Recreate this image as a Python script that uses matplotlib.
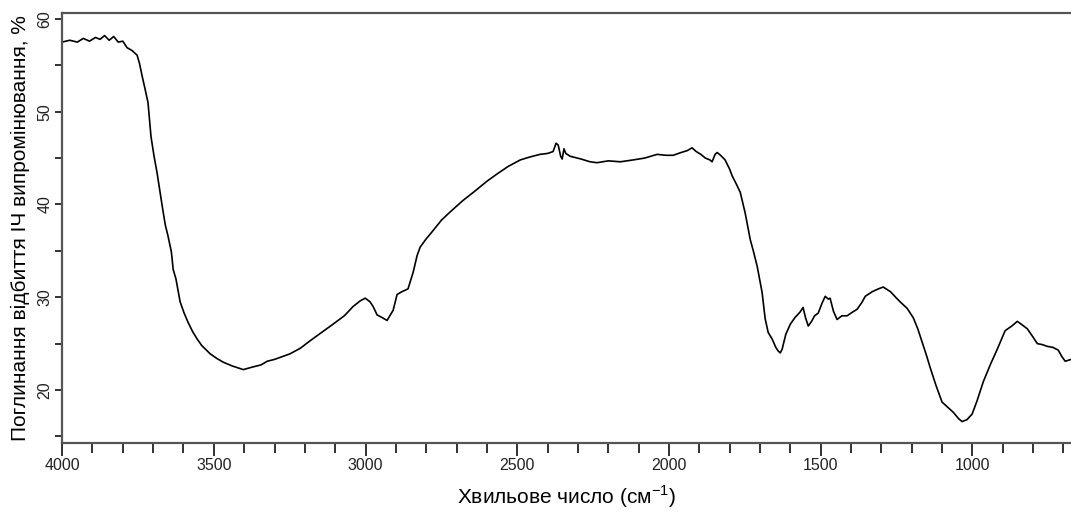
import numpy as np
import matplotlib.pyplot as plt
from matplotlib.ticker import MultipleLocator

plt.rcParams['font.family'] = ['Liberation Sans', 'DejaVu Sans']

# IR spectrum: wavenumber (cm-1) and absorbance (%)
WAVENUMBER = [
    4000, 3975, 3950, 3930, 3910, 3890, 3875, 3860, 3845, 3830, 3815, 3800,
    3786, 3770, 3753, 3745, 3736, 3727, 3717, 3707, 3697, 3687, 3670, 3660,
    3651, 3640, 3634, 3625, 3611, 3598, 3585, 3570, 3555, 3540, 3512, 3490,
    3469, 3440, 3403, 3370, 3345, 3324, 3300, 3275, 3249, 3215, 3183, 3145,
    3107, 3070, 3041, 3018, 3001, 2985, 2975, 2962, 2945, 2929, 2909, 2896,
    2880, 2860, 2843, 2830, 2820, 2800, 2787, 2750, 2721, 2680, 2645, 2600,
    2566, 2530, 2490, 2460, 2425, 2400, 2382, 2372, 2365, 2357, 2352, 2346,
    2340, 2326, 2290, 2260, 2237, 2200, 2160, 2118, 2080, 2039, 2010, 1986,
    1960, 1940, 1924, 1910, 1895, 1880, 1865, 1858, 1848, 1841, 1830, 1815,
    1800, 1792, 1778, 1765, 1749, 1732, 1722, 1709, 1693, 1683, 1673, 1660,
    1648, 1640, 1633, 1627, 1615, 1600, 1585, 1568, 1558, 1550, 1541, 1530,
    1520, 1508, 1495, 1485, 1475, 1469, 1458, 1446, 1430, 1413, 1395, 1380,
    1365, 1353, 1330, 1310, 1294, 1270, 1250, 1238, 1215, 1195, 1180, 1166,
    1150, 1139, 1120, 1100, 1080, 1063, 1045, 1034, 1018, 1001, 985, 964,
    940, 918, 900, 892, 870, 852, 835, 819, 800, 786, 770, 753,
    735, 717, 705, 694, 675,
]
ABSORBANCE = [
    57.5, 57.7, 57.5, 57.9, 57.6, 58.0, 57.8, 58.2, 57.7, 58.1, 57.5, 57.6,
    56.9, 56.6, 56.1, 55.2, 53.8, 52.5, 51.0, 47.3, 45.2, 43.4, 39.8, 37.8,
    36.6, 34.9, 33.0, 32.0, 29.5, 28.3, 27.3, 26.3, 25.5, 24.8, 23.9, 23.4,
    23.0, 22.6, 22.2, 22.5, 22.7, 23.1, 23.3, 23.6, 23.9, 24.5, 25.3, 26.2,
    27.1, 28.0, 29.0, 29.6, 29.9, 29.5, 29.0, 28.1, 27.8, 27.5, 28.6, 30.3,
    30.6, 30.9, 32.7, 34.5, 35.4, 36.3, 36.8, 38.3, 39.2, 40.4, 41.3, 42.5,
    43.3, 44.1, 44.8, 45.1, 45.4, 45.5, 45.7, 46.6, 46.4, 45.2, 44.9, 46.0,
    45.5, 45.2, 44.9, 44.6, 44.5, 44.7, 44.6, 44.8, 45.0, 45.4, 45.3, 45.3,
    45.6, 45.8, 46.1, 45.7, 45.4, 45.0, 44.8, 44.6, 45.4, 45.6, 45.3, 44.8,
    43.8, 43.1, 42.2, 41.3, 39.1, 36.2, 35.0, 33.3, 30.5, 27.7, 26.2, 25.5,
    24.6, 24.2, 24.0, 24.4, 26.0, 27.1, 27.8, 28.4, 28.9, 27.8, 26.9, 27.4,
    28.0, 28.3, 29.4, 30.1, 29.8, 29.9, 28.5, 27.6, 28.0, 28.0, 28.4, 28.7,
    29.4, 30.1, 30.6, 30.9, 31.1, 30.6, 29.9, 29.5, 28.8, 27.8, 26.6, 25.2,
    23.6, 22.4, 20.5, 18.7, 18.1, 17.6, 16.9, 16.6, 16.8, 17.4, 18.8, 20.9,
    22.8, 24.4, 25.8, 26.4, 26.9, 27.4, 27.0, 26.6, 25.7, 25.0, 24.9, 24.7,
    24.6, 24.3, 23.6, 23.1, 23.3,
]

X_TICKS = [4000, 3500, 3000, 2500, 2000, 1500, 1000]
Y_TICKS = [20, 30, 40, 50, 60]

fig = plt.figure(figsize=(10.71, 5.15), dpi=100)
ax = fig.add_axes([0.058, 0.14, 0.942, 0.835])

ax.plot(WAVENUMBER, ABSORBANCE, color='black', linewidth=1.2)

ax.set_xlim(4000, 675)
ax.set_ylim(14.3, 60.65)

ax.set_xticks(X_TICKS)
ax.xaxis.set_minor_locator(MultipleLocator(100))
ax.set_yticks(Y_TICKS)
ax.yaxis.set_minor_locator(MultipleLocator(5))

spine_col = '#555555'
for side in ('left', 'bottom', 'top'):
    ax.spines[side].set_color(spine_col)
    ax.spines[side].set_linewidth(1.6)
ax.spines['right'].set_visible(False)

ax.tick_params(axis='x', which='major', direction='out', length=9, width=1.3,
               colors='#222222', labelsize=11.5, pad=2)
ax.tick_params(axis='x', which='minor', direction='out', length=7, width=1.3,
               colors='#222222')
ax.tick_params(axis='y', which='major', direction='out', length=5, width=1.3,
               colors='#222222', labelsize=11.5, pad=2)
ax.tick_params(axis='y', which='minor', direction='out', length=5, width=1.3,
               colors='#222222')
for lab in ax.get_yticklabels():
    lab.set_rotation(90)
    lab.set_va('center')

ax.set_xlabel('Хвильове число (см$^{\\mathregular{-1}}$)', fontsize=15, labelpad=7)
ax.set_ylabel('Поглинання відбиття ІЧ випромінювання, %', fontsize=15, labelpad=5)

fig.savefig('out.png', dpi=100)
